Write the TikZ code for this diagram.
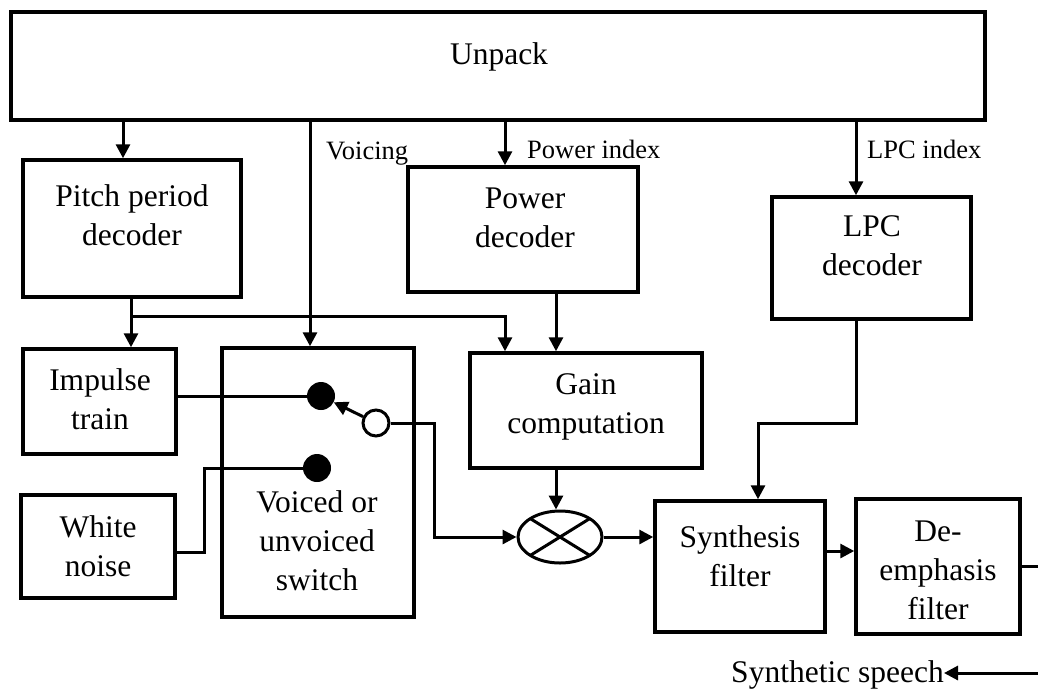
\documentclass[tikz,border=0pt]{standalone}
\usepackage{fontspec}
\setmainfont{Liberation Serif}
\usetikzlibrary{arrows.meta,shapes.geometric}

\tikzset{
  blk/.style={draw, line width=3.5pt, inner sep=0pt},
  txt/.style={font=\fontsize{31.5}{39}\selectfont, align=center, inner sep=0pt},
  lbl/.style={font=\fontsize{26.5}{32}\selectfont, inner sep=0pt},
  wire/.style={line width=3pt},
  arr/.style={wire, -{Triangle[length=14pt, width=14pt]}},
  dot/.style={circle, fill=black, minimum size=28pt, inner sep=0pt},
  pivot/.style={circle, draw, fill=white, line width=3pt, minimum size=26pt, inner sep=0pt},
  mixer/.style={ellipse, draw, line width=3pt, minimum width=84pt, minimum height=52pt, inner sep=0pt}
}

\begin{document}
\begin{tikzpicture}[x=1pt, y=-1pt]
\useasboundingbox (0,0) rectangle (1038,689);

% blocks
\node[blk, minimum width=974pt, minimum height=108pt] (unpack) at (498,66) {};
\node[blk, minimum width=218pt, minimum height=137pt] (pitch)  at (132,228.5) {};
\node[blk, minimum width=230pt, minimum height=125pt] (power)  at (523,229.5) {};
\node[blk, minimum width=199pt, minimum height=122pt] (lpc)    at (871.5,258) {};
\node[blk, minimum width=153pt, minimum height=105pt] (impulse) at (99.5,401.5) {};
\node[blk, minimum width=154pt, minimum height=103pt] (noise)  at (98,546.5) {};
\node[blk, minimum width=192pt, minimum height=269pt] (switch) at (318,482.5) {};
\node[blk, minimum width=232pt, minimum height=115pt] (gain)   at (586,410.5) {};
\node[blk, minimum width=170pt, minimum height=131pt] (synth)  at (740,566.5) {};
\node[blk, minimum width=164pt, minimum height=135pt] (deemph) at (938,566.5) {};

% block texts
\node[txt] (tunpack)  at (499,57)  {\strut Unpack};
\node[txt] (tpitch)   at (132,218) {\strut Pitch period\\\strut decoder};
\node[txt] (tpower)   at (525,220) {\strut Power\\\strut decoder};
\node[txt] (tlpc)     at (872,248) {\strut LPC\\\strut decoder};
\node[txt] (timpulse) at (100,402) {\strut Impulse\\\strut train};
\node[txt] (tnoise)   at (98,549)  {\strut White\\\strut noise};
\node[txt] (tswitch)  at (317,544) {\strut Voiced or\\\strut unvoiced\\\strut switch};
\node[txt] (tgain)    at (586,406) {\strut Gain\\\strut computation};
\node[txt] (tsynth)   at (740,559) {\strut Synthesis\\\strut filter};
\node[txt] (tdeemph)  at (938,573) {\strut De-\\\strut emphasis\\\strut filter};

% switch contacts and multiplier
\node[dot]   (dot1) at (321,396) {};
\node[dot]   (dot2) at (317,468) {};
\node[pivot] (sw)   at (376,423) {};
\node[mixer] (mult) at (560,537) {};
\draw[wire] (mult.center) ++(-29.7,-18.4) -- ++(59.4,36.8);
\draw[wire] (mult.center) ++(-29.7,18.4) -- ++(59.4,-36.8);

% routing columns and bends
\coordinate (px)  at (123,0);
\coordinate (vx)  at (310,0);
\coordinate (pwx) at (505,0);
\coordinate (lx)  at (856,0);
\coordinate (gm)  at (556,0);
\coordinate (pj)  at (131,316);
\coordinate (wn)  at (204,552);
\coordinate (mb)  at (434,537);
\coordinate (lb)  at (758,423);
\coordinate (dy)  at (0,551);
\coordinate (oa)  at (1038,566);
\coordinate (ob)  at (1038,673);

% labels on the index lines
\node[lbl, anchor=base west] (lvoicing) at (326,159) {Voicing};
\node[lbl, anchor=base west] (lpower)   at (527,158) {Power index};
\node[lbl, anchor=base west] (llpc)     at (867,158) {LPC index};
\node[txt, anchor=base east] (speech)   at (944,682) {Synthetic speech};

% connectors
\draw[arr] (unpack.south -| px)  -- (pitch.north -| px);
\draw[arr] (unpack.south -| vx)  -- (switch.north -| vx);
\draw[arr] (unpack.south -| pwx) -- (power.north -| pwx);
\draw[arr] (unpack.south -| lx)  -- (lpc.north -| lx);

\draw[arr] (pitch.south -| pj) -- (impulse.north -| pj);
\draw[arr] (pj) -| (gain.north -| pwx);
\draw[arr] (power.south -| gm) -- (gain.north -| gm);
\draw[arr] (gain.south -| gm) -- (mult.north -| gm);

\draw[wire] (impulse.east |- dot1) -- (dot1);
\draw[wire] (noise.east |- wn) -- (wn) |- (dot2);
\draw[arr] (sw) -- (dot1);
\draw[arr] (sw) -| (mb) -- (mult);

\draw[arr] (mult) -- (synth.west |- mult);
\draw[arr] (lpc.south -| lx) |- (lb) -- (synth.north -| lb);
\draw[arr] (synth.east |- dy) -- (deemph.west |- dy);
\draw[wire] (deemph.east |- oa) -- (oa);
\draw[arr] (ob) -- (speech.east |- ob);
\end{tikzpicture}
\end{document}
